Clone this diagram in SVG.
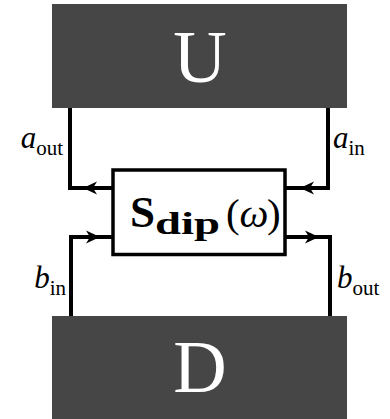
<svg xmlns="http://www.w3.org/2000/svg" width="390" height="419" viewBox="0 0 390 419">
<style>
.blk{fill:#464646}
.big{font-family:"Liberation Serif",serif;font-size:74px;fill:#fff;text-anchor:middle}
.wire{fill:none;stroke:#000;stroke-width:4;stroke-linejoin:miter}
.arr{fill:#000;stroke:none}
.lbl{font-family:"Liberation Serif",serif;font-size:31px;fill:#000}
.sub{font-size:21px;font-style:normal}
</style>
<rect width="390" height="419" fill="#fff"/>
<g id="U">
<rect class="blk" x="52" y="4" width="295" height="104"/>
<text class="big" x="200" y="82">U</text>
</g>
<g id="D">
<rect class="blk" x="52" y="316" width="295" height="103"/>
<text class="big" x="200" y="392">D</text>
</g>
<g id="S">
<rect x="113" y="170" width="172" height="84.5" fill="#fff" stroke="#000" stroke-width="3.5"/>
<text font-family="Liberation Serif,serif" fill="#000"><tspan x="130" y="227" font-size="45" font-weight="bold">S</tspan><tspan y="234" font-size="32" font-weight="bold" textLength="65" lengthAdjust="spacingAndGlyphs">dip</tspan><tspan x="226" y="227" font-size="41">(</tspan><tspan x="239.5" font-size="41" font-style="italic">ω</tspan><tspan x="267" font-size="41">)</tspan></text>
</g>
<g id="connectors">
<path class="wire" d="M70,108 V188 H113"/>
<path class="arr" d="M83,188 L97,181.5 L93,188 L97,194.5 Z"/>
<path class="wire" d="M71,316 V237 H113"/>
<path class="arr" d="M100,237 L86,230.5 L90,237 L86,243.5 Z"/>
<path class="wire" d="M328,108 V188 H285"/>
<path class="arr" d="M300,188 L314,181.5 L310,188 L314,194.5 Z"/>
<path class="wire" d="M330,316 V237 H285"/>
<path class="arr" d="M319,237 L305,230.5 L309,237 L305,243.5 Z"/>
</g>
<g id="labels">
<text class="lbl" x="63" y="148" text-anchor="end"><tspan font-style="italic">a</tspan><tspan class="sub" dy="7">out</tspan></text>
<text class="lbl" x="333" y="148"><tspan font-style="italic">a</tspan><tspan class="sub" dy="7">in</tspan></text>
<text class="lbl" x="66" y="288" text-anchor="end"><tspan font-style="italic">b</tspan><tspan class="sub" dy="7">in</tspan></text>
<text class="lbl" x="337" y="288"><tspan font-style="italic">b</tspan><tspan class="sub" dy="7">out</tspan></text>
</g>
</svg>
